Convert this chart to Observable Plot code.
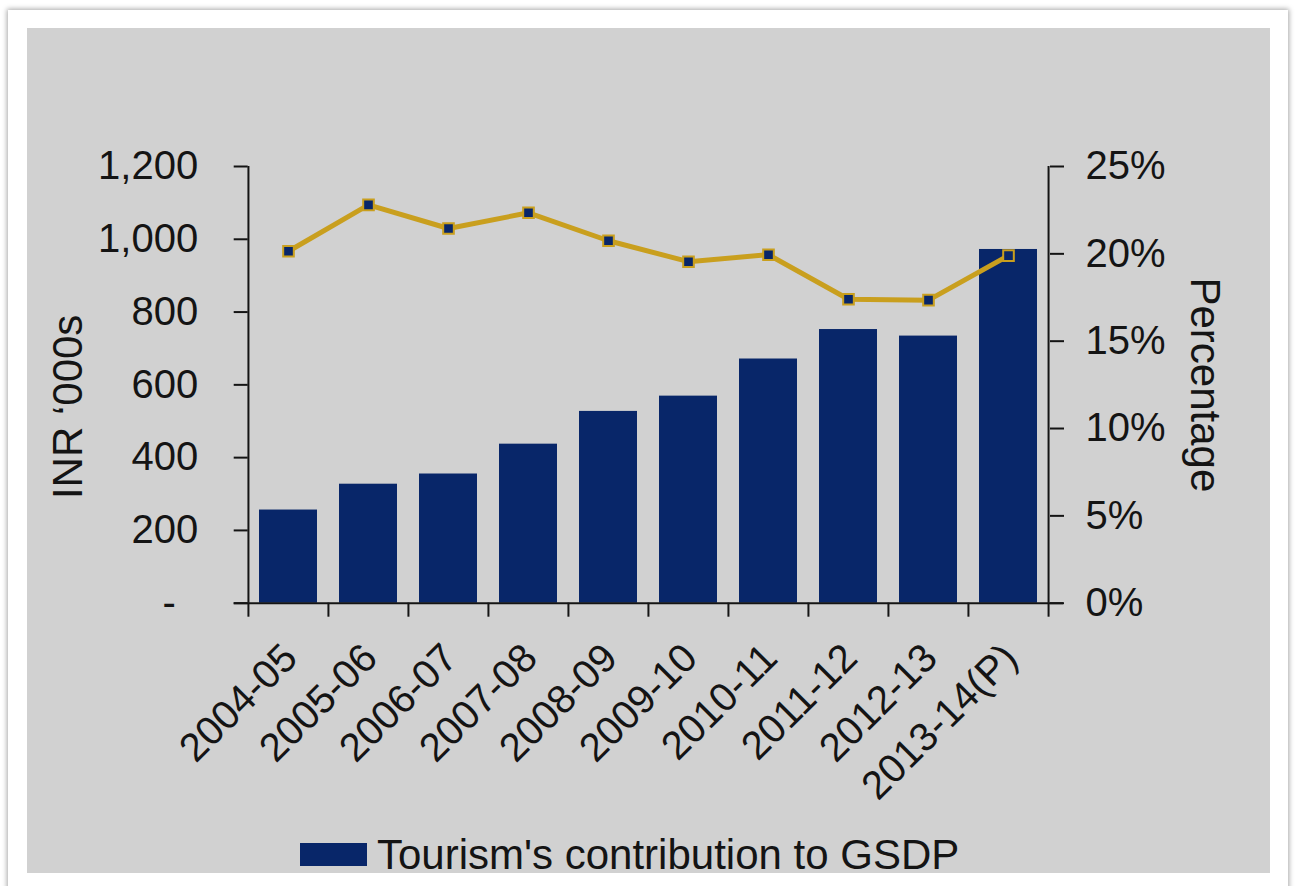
<!DOCTYPE html>
<html>
<head>
<meta charset="utf-8">
<script src="https://cdn.jsdelivr.net/npm/d3@7"></script>
<script src="https://cdn.jsdelivr.net/npm/@observablehq/plot@0.6"></script>
<style>
  html, body { margin: 0; padding: 0; background: #fff; overflow: hidden; width: 1295px; height: 886px; }
  #card { position: absolute; left: 8px; top: 10px; width: 1280px; height: 900px; background: #fff;
          box-shadow: 0 0 5px 1px rgba(0,0,0,0.35); }
  #panel { position: absolute; left: 27px; top: 28px; width: 1243px; height: 845px; background: #d1d1d1; }
  #chart { position: absolute; left: 0; top: 0; }
  #legend { position: absolute; left: 0; top: 830px; }
</style>
</head>
<body>
<div id="card"></div>
<div id="panel"></div>
<div id="chart"></div>
<div id="legend"></div>
<script>
// ---- data ----
const categories = ["2004-05", "2005-06", "2006-07", "2007-08", "2008-09", "2009-10", "2010-11", "2011-12", "2012-13", "2013-14(P)"];
const gsdp = [256, 327, 355, 437, 527, 569, 671, 752, 734, 972];            // INR '000s
const share = [20.15, 22.8, 21.45, 22.35, 20.75, 19.55, 19.95, 17.4, 17.35, 19.9]; // percentage
const inrTicks = [0, 200, 400, 600, 800, 1000, 1200];
const pctTicks = [0, 5, 10, 15, 20, 25];
const leftTitle = "INR \u2018000s";
const rightTitle = "Percentage";
const legendLabel = "Tourism's contribution to GSDP";

const data = categories.map((c, i) => ({year: c, gsdp: gsdp[i], share: share[i]}));
const k = d3.max(inrTicks) / d3.max(pctTicks); // map % onto the left scale

// ---- layout / style ----
const W = 1295, H = 830;
const mL = 247.7, mR = 246, mT = 166, mB = H - 602.7;
const step = (W - mL - mR) / categories.length;
const navy = "#082669", gold = "#c99f1e", ink = "#141414";
const font = "'Liberation Sans', Arial, Helvetica, sans-serif";

const chart = Plot.plot({
  width: W, height: H,
  marginLeft: mL, marginRight: mR, marginTop: mT, marginBottom: mB,
  style: {background: "transparent", fontFamily: font, color: ink, overflow: "visible"},
  x: {domain: categories, paddingInner: 0.275, paddingOuter: 0.1375, axis: null},
  y: {domain: [0, d3.max(inrTicks)], axis: null},
  marks: [
    Plot.barY(data, {x: "year", y: "gsdp", fill: navy}),
    // axis lines
    Plot.ruleY([0], {insetLeft: -14, insetRight: -14, stroke: ink, strokeWidth: 2}),
    Plot.ruleX([categories[0]], {dx: -step / 2, y1: 0, y2: d3.max(inrTicks), stroke: ink, strokeWidth: 2}),
    Plot.ruleX([categories[categories.length - 1]], {dx: step / 2, y1: 0, y2: d3.max(inrTicks), stroke: ink, strokeWidth: 2}),
    // category boundary ticks
    Plot.ruleX(categories, {dx: -step / 2, y1: 0, y2: 0, insetBottom: -14, stroke: ink, strokeWidth: 2}),
    Plot.ruleX([categories[categories.length - 1]], {dx: step / 2, y1: 0, y2: 0, insetBottom: -14, stroke: ink, strokeWidth: 2}),
    // y axes
    Plot.axisY({anchor: "left", ticks: inrTicks, tickSize: 14, tickPadding: 36, fontSize: 40, strokeWidth: 2,
      tickFormat: d => d === 0 ? "-\u2007" : d3.format(",")(d), label: null}),
    Plot.axisY({anchor: "right", ticks: pctTicks.map(p => p * k), tickSize: 14, tickPadding: 22, fontSize: 40, strokeWidth: 2,
      tickFormat: d => Math.round(d / k) + "%", label: null}),
    // line series
    Plot.line(data, {x: "year", y: d => d.share * k, stroke: gold, strokeWidth: 5}),
    Plot.dot(data, {x: "year", y: d => d.share * k, symbol: "square", r: 6, fill: navy, stroke: gold, strokeWidth: 2}),
    // x tick labels
    Plot.text(categories, {x: d => d, frameAnchor: "bottom", dy: 48, dx: 2, rotate: -45, textAnchor: "end", lineAnchor: "middle", fontSize: 40, fill: ink}),
    // axis titles
    Plot.text([leftTitle], {frameAnchor: "left", dx: -180, dy: 22, rotate: -90, textAnchor: "middle", lineAnchor: "middle", fontSize: 42, fill: ink}),
    Plot.text([rightTitle], {frameAnchor: "right", dx: 154.5, rotate: 90, textAnchor: "middle", lineAnchor: "middle", fontSize: 42, fill: ink})
  ]
});
document.getElementById("chart").appendChild(chart);

// ---- legend ----
const lg = d3.select("#legend").append("svg").attr("width", W).attr("height", 56)
  .style("font-family", font);
lg.append("rect").attr("x", 300).attr("y", 13).attr("width", 67).attr("height", 23).attr("fill", navy);
lg.append("text").attr("x", 377).attr("y", 39).attr("font-size", 42).attr("fill", ink).text(legendLabel);
</script>
</body>
</html>
